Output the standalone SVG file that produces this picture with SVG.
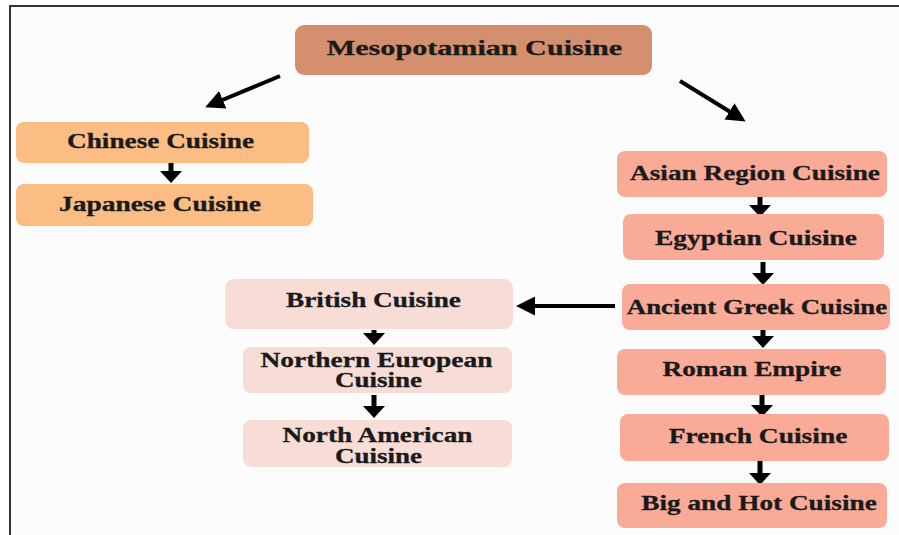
<svg xmlns="http://www.w3.org/2000/svg" width="899" height="535" viewBox="0 0 899 535">
<defs>
<style>
.t{font-family:"Liberation Serif","Times New Roman",serif;font-weight:bold;font-size:20.5px;fill:#1a1a1a;text-anchor:middle;stroke:#1a1a1a;stroke-width:0.3px;}
.big{font-size:22px;}
.c{stroke:#000;fill:none;}
.n0{fill:#d4906e;}
.n1{fill:#fbbd84;}
.n2{fill:#f9ab98;}
.n3{fill:#f7ddd6;}
</style>
<marker id="hd" viewBox="0 0 12 22" refX="2" refY="11" markerWidth="12" markerHeight="22" markerUnits="userSpaceOnUse" orient="auto">
<path d="M0,0 L12,11 L0,22 z" fill="#000"/>
</marker>
<marker id="hl" viewBox="0 0 19 19" refX="3" refY="9.5" markerWidth="19" markerHeight="19" markerUnits="userSpaceOnUse" orient="auto">
<path d="M0,0 L19,9.5 L0,19 z" fill="#000"/>
</marker>
</defs>
<rect x="0" y="0" width="899" height="535" fill="#ffffff"/>
<rect x="10" y="6" width="889" height="529" fill="#fcfcfc"/>
<path d="M10,535 L10,6 L899,6" fill="none" stroke="#333" stroke-width="2"/>

<g id="connectors">
<line class="c" x1="280" y1="76" x2="220" y2="101" stroke-width="4" marker-end="url(#hl)"/>
<line class="c" x1="680" y1="81" x2="732" y2="113" stroke-width="4" marker-end="url(#hl)"/>
<line class="c" x1="171" y1="160" x2="171" y2="173" stroke-width="5" marker-end="url(#hd)"/>
<line class="c" x1="760" y1="192" x2="760" y2="207" stroke-width="5" marker-end="url(#hd)"/>
<line class="c" x1="763" y1="262" x2="763" y2="275" stroke-width="5" marker-end="url(#hd)"/>
<line class="c" x1="763" y1="330" x2="763" y2="338" stroke-width="5" marker-end="url(#hd)"/>
<line class="c" x1="762" y1="393" x2="762" y2="407" stroke-width="5" marker-end="url(#hd)"/>
<line class="c" x1="760" y1="461" x2="760" y2="475" stroke-width="5" marker-end="url(#hd)"/>
<line class="c" x1="374" y1="330" x2="374" y2="335" stroke-width="5" marker-end="url(#hd)"/>
<line class="c" x1="374" y1="395" x2="374" y2="408" stroke-width="5" marker-end="url(#hd)"/>
<line class="c" x1="615" y1="306" x2="532" y2="306" stroke-width="4" marker-end="url(#hl)"/>
</g>

<g id="mesopotamian"><rect class="n0" x="295" y="25" width="357" height="50" rx="9"/><text class="t big" transform="translate(474.5,55) scale(1.37,1)">Mesopotamian Cuisine</text></g>
<g id="chinese"><rect class="n1" x="16" y="122" width="293" height="41" rx="8"/><text class="t" transform="translate(160.5,148) scale(1.33,1)">Chinese Cuisine</text></g>
<g id="japanese"><rect class="n1" x="16" y="184" width="297" height="42" rx="8"/><text class="t" transform="translate(160,211) scale(1.34,1)">Japanese Cuisine</text></g>
<g id="asian"><rect class="n2" x="617" y="151" width="270" height="46" rx="8"/><text class="t" transform="translate(755,180) scale(1.33,1)">Asian Region Cuisine</text></g>
<g id="egyptian"><rect class="n2" x="623" y="214" width="261" height="46" rx="8"/><text class="t" transform="translate(756,245) scale(1.34,1)">Egyptian Cuisine</text></g>
<g id="greek"><rect class="n2" x="622" y="284" width="268" height="46" rx="8"/><text class="t" transform="translate(757,314) scale(1.31,1)">Ancient Greek Cuisine</text></g>
<g id="roman"><rect class="n2" x="617" y="349" width="269" height="46" rx="8"/><text class="t" transform="translate(752,376) scale(1.33,1)">Roman Empire</text></g>
<g id="french"><rect class="n2" x="620" y="414" width="269" height="47" rx="8"/><text class="t" transform="translate(758,443) scale(1.34,1)">French Cuisine</text></g>
<g id="bighot"><rect class="n2" x="617" y="483" width="270" height="45" rx="8"/><text class="t" transform="translate(759,510) scale(1.33,1)">Big and Hot Cuisine</text></g>
<g id="british"><rect class="n3" x="225" y="279" width="288" height="50" rx="9"/><text class="t" transform="translate(373.5,307) scale(1.33,1)">British Cuisine</text></g>
<g id="northern"><rect class="n3" x="243" y="347" width="269" height="46" rx="8"/><text class="t" transform="translate(376.5,367) scale(1.34,1)">Northern European</text><text class="t" transform="translate(378.5,387) scale(1.32,1)">Cuisine</text></g>
<g id="northamerican"><rect class="n3" x="243" y="420" width="269" height="47" rx="8"/><text class="t" transform="translate(377.5,442) scale(1.33,1)">North American</text><text class="t" transform="translate(378.5,463) scale(1.32,1)">Cuisine</text></g>
</svg>
